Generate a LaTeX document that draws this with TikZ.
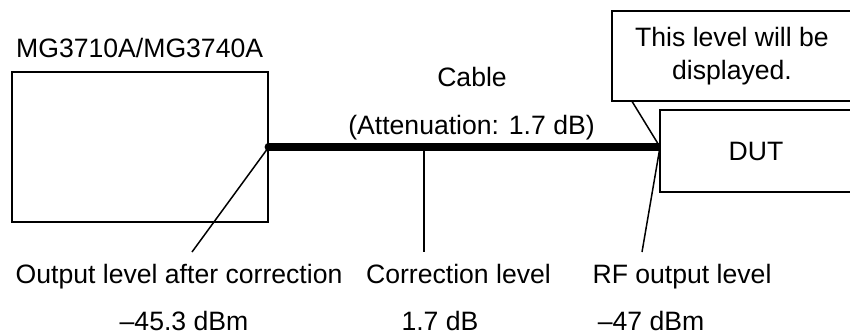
\documentclass[tikz,border=0pt]{standalone}
\usepackage{fontspec}
\setmainfont{Liberation Sans}
\usetikzlibrary{calc}
\begin{document}
\begin{tikzpicture}[x=1pt,y=-1pt,
  every node/.style={font=\fontsize{26.6}{33}\selectfont, inner sep=0pt},
  box/.style={draw, line width=1.5pt, rectangle, fill=white},
  lead/.style={line width=1.5pt},
  cable/.style={line width=7.5pt}]
\useasboundingbox (0,0) rectangle (850,334);
\clip (0,0) rectangle (850,334);
% signal generator
\node[box, minimum width=256pt, minimum height=150pt] (sg) at (140,147) {};
\node[anchor=base west] (sglbl) at (16,58) {MG3710A/MG3740A};
% cable end point
\coordinate (ce) at (660,147);
\coordinate (cp) at (424,147);
\draw[cable] (sg.east) -- (ce);
\fill (sg.east) circle (4.2pt);
% DUT
\node[box, minimum width=192pt, minimum height=82pt] (dut) at (756,151) {DUT};
% callout
\node[box, minimum width=240pt, minimum height=90pt, align=center] (call) at (732,56) {This level will be\\displayed.};
\draw[lead] ($(call.south west)+(21,0)$) -- (ce);
% cable labels
\node[anchor=base] (cablbl) at (472,87) {Cable};
\node[anchor=base] (attlbl) at (471.5,134) {(Attenuation: 1.7 dB)};
% leads
\coordinate (l1) at (192,252);
\coordinate (l2) at (424,252);
\coordinate (l3) at (642,252);
\draw[lead] (sg.east) -- (l1);
\draw[lead] (cp) -- (l2);
\draw[lead] (ce) -- (l3);
% bottom labels
\node[anchor=base] (o1) at (179,283) {Output level after correction};
\node[anchor=base] (v1) at (184,330) {–45.3 dBm};
\node[anchor=base] (o2) at (458.5,283) {Correction level};
\node[anchor=base] (v2) at (440,330) {1.7 dB};
\node[anchor=base] (o3) at (682,283) {RF output level};
\node[anchor=base] (v3) at (651,330) {–47 dBm};
\end{tikzpicture}
\end{document}
